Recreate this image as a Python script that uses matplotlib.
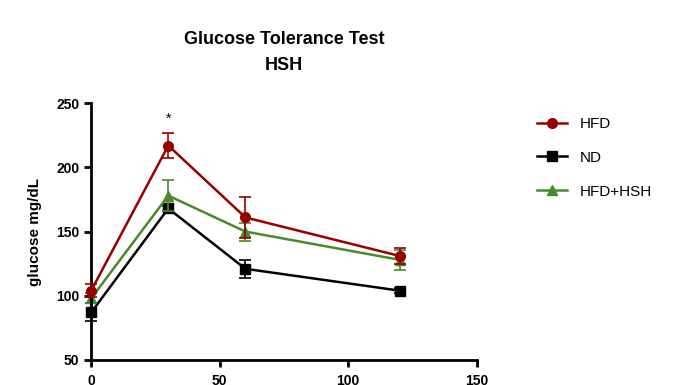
import matplotlib
matplotlib.use('Agg')
import matplotlib.pyplot as plt

plt.rcParams['font.family'] = ['Liberation Sans', 'DejaVu Sans']

# time points (min)
time = [0, 30, 60, 120]

# glucose mg/dL, mean and error
hfd = [104, 217, 161, 131]
hfd_err = [5, 10, 16, 6]
nd = [87, 168, 121, 104]
nd_err = [7, 2, 7, 2]
hsh = [98, 178, 150, 128]
hsh_err = [4, 12, 7, 8]

labels = ['HFD', 'ND', 'HFD+HSH']
colors = ['#990000', '#000000', '#4a8a2a']
markers = ['o', 's', '^']

fig = plt.figure(figsize=(6.96, 3.85), dpi=100)
ax = fig.add_axes([0.131, 0.065, 0.554, 0.667])

series = [hfd, nd, hsh]
errs = [hfd_err, nd_err, hsh_err]
zs = [3, 2, 2.5]
for y, e, c, m, lab, z in zip(series, errs, colors, markers, labels, zs):
    ax.errorbar(time, y, yerr=e, fmt='none', ecolor=c, capsize=4,
                elinewidth=1.2, capthick=1.2, zorder=z, clip_on=False)
    ax.plot(time, y, color=c, marker=m, ms=7, lw=1.8, label=lab,
            zorder=z, clip_on=False)

ax.text(30, 238, '*', ha='center', va='center', fontsize=10)

ax.set_xlim(0, 150)
ax.set_ylim(50, 250)
ax.set_xticks([0, 50, 100, 150])
ax.set_yticks([50, 100, 150, 200, 250])
for s in ['top', 'right']:
    ax.spines[s].set_visible(False)
for s in ['left', 'bottom']:
    ax.spines[s].set_linewidth(2)
ax.tick_params(width=2, length=5, labelsize=10)
ax.tick_params(axis='x', pad=5)
for t in ax.get_xticklabels() + ax.get_yticklabels():
    t.set_fontweight('bold')
ax.set_ylabel('glucose mg/dL', fontsize=11, fontweight='bold', labelpad=10)

ax.set_title('Glucose Tolerance Test\nHSH', fontsize=13, fontweight='bold',
             pad=24, linespacing=1.7)

leg = ax.legend(loc='upper left', bbox_to_anchor=(1.12, 1.0), frameon=False,
                fontsize=11, handlelength=2.0, labelspacing=1.3)

fig.savefig('out.png', dpi=100)
